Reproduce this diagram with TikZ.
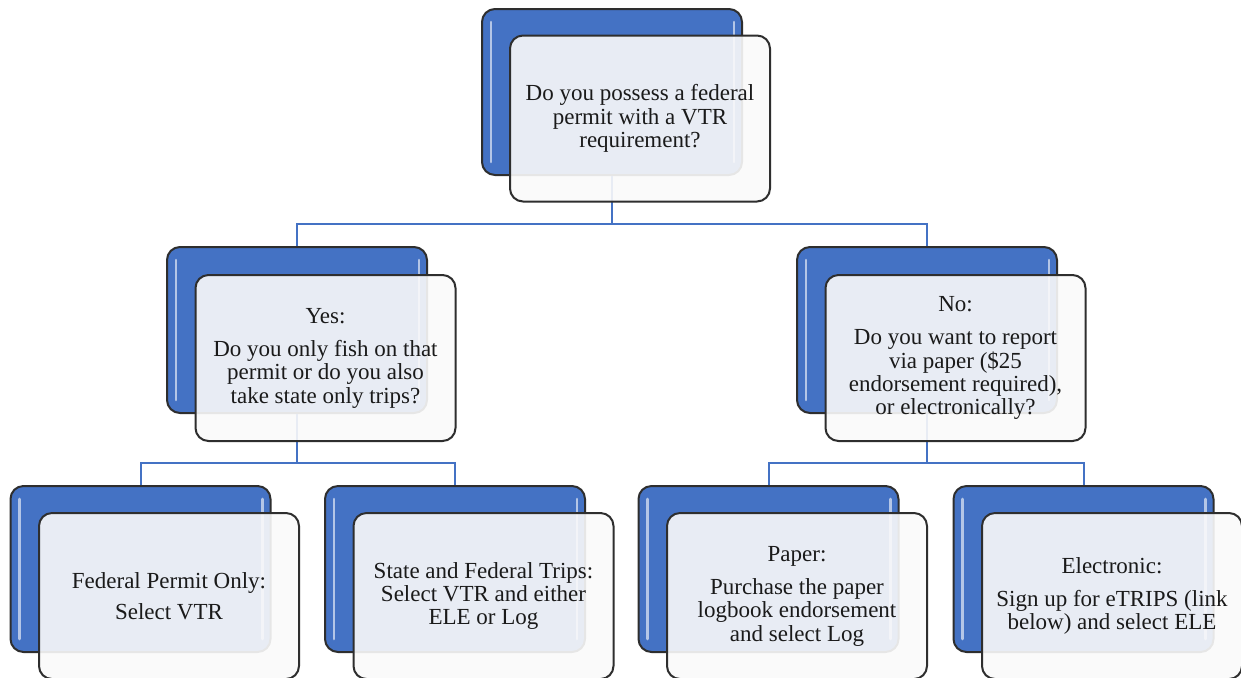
\documentclass[tikz,border=0pt]{standalone}
\usepackage{fontspec}
\newfontfamily\tnrfont{Liberation Serif}
\definecolor{accent}{HTML}{4472C4}
\definecolor{edgegray}{HTML}{2E2E2E}
\definecolor{txt}{HTML}{1A1A1A}
\definecolor{frontfill}{HTML}{FAFAFA}
\tikzset{
  backbox/.style={draw=edgegray, line width=1pt, fill=accent, rounded corners=6.5pt,
    minimum width=130pt, minimum height=83pt, inner sep=0pt},
  frontbox/.style={draw=edgegray, line width=1pt, fill=frontfill, fill opacity=0.9,
    text opacity=1, rounded corners=6.5pt, minimum width=130pt, minimum height=83pt,
    inner sep=2pt, align=center, text=txt, font=\tnrfont\fontsize{11.5}{11.65}\selectfont},
  conn/.style={draw=accent, line width=1pt},
  gloss/.style={draw=white, draw opacity=0.6, line width=1.3pt, line cap=round}
}
\begin{document}
\begin{tikzpicture}[x=0.5pt, y=-0.5pt]
\useasboundingbox (0,0) rectangle (1241,677);
\fill[white] (0,0) rectangle (1241,677);
% back boxes
\node[backbox] (b0) at (612,92) {};
\node[backbox] (b1) at (297,330) {};
\node[backbox] (b2) at (927,330) {};
\node[backbox] (b3) at (140.5,569) {};
\node[backbox] (b4) at (455,569) {};
\node[backbox] (b5) at (768.5,569) {};
\node[backbox] (b6) at (1083.5,569) {};
\foreach \b in {b0,b1,b2,b3,b4,b5,b6}{
  \draw[gloss] ([shift={(5pt,-7pt)}]\b.north west) -- ([shift={(5pt,7pt)}]\b.south west);
  \draw[gloss] ([shift={(-4.5pt,-7pt)}]\b.north east) -- ([shift={(-4.5pt,7pt)}]\b.south east);
}
% connectors
\coordinate (j0) at (612,224);
\coordinate (j1) at (297,463);
\coordinate (j2) at (927,463);
\draw[conn] (b0.south) -- (j0);
\draw[conn] (j0) -| (b1.north);
\draw[conn] (j0) -| (b2.north);
\draw[conn] (b1.south) -- (j1);
\draw[conn] (j1) -| (b3.north);
\draw[conn] (j1) -| (b4.north);
\draw[conn] (b2.south) -- (j2);
\draw[conn] (j2) -| (b5.north);
\draw[conn] (j2) -| (b6.north);
% front boxes
\node[frontbox] (f0) at (640,118.5) {Do you possess a federal\\permit with a VTR\\requirement?};
\node[frontbox] (f1) at (325.5,358) {Yes:\\[5pt]Do you only fish on that\\permit or do you also\\take state only trips?};
\node[frontbox] (f2) at (955.5,358) {No:\\[5pt]Do you want to report\\via paper (\$25\\endorsement required),\\or electronically?};
\node[frontbox] (f3) at (169,596) {Federal Permit Only:\\[4pt]Select VTR};
\node[frontbox] (f4) at (483.5,596) {State and Federal Trips:\\Select VTR and either\\ELE or Log};
\node[frontbox] (f5) at (797,596) {Paper:\\[5pt]Purchase the paper\\logbook endorsement\\and select Log};
\node[frontbox] (f6) at (1112,596) {Electronic:\\[5pt]Sign up for eTRIPS (link\\below) and select ELE};
\end{tikzpicture}
\end{document}
